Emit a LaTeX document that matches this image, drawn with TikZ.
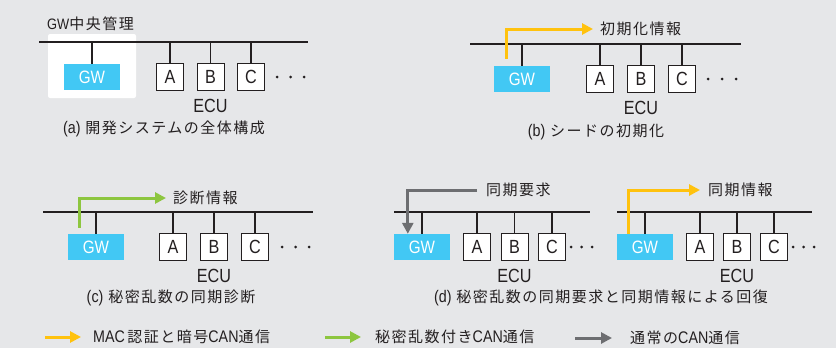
\documentclass[tikz,border=0pt]{standalone}
\usepackage{fontspec}
\setmainfont{Liberation Sans}[FakeStretch=0.85,Scale=1.12]
\newfontfamily\jp{Noto Sans CJK JP}[LetterSpace=10]
\usetikzlibrary{arrows.meta}
\definecolor{bgc}{RGB}{230,231,233}
\definecolor{ink}{RGB}{35,31,32}
\definecolor{gwcyan}{RGB}{66,200,244}
\definecolor{yellowc}{RGB}{255,194,14}
\definecolor{greenc}{RGB}{141,198,63}
\definecolor{grayc}{RGB}{109,110,113}
\newcommand\lt[1]{{\rmfamily #1}}
\newcommand\canbus[9]{%
  \coordinate (#1bl) at (#3,#2);
  \coordinate (#1br) at (#4,#2);
  \node[gwbox] (#1gw) at (#5,#2+35) {GW};
  \node[ecubox] (#1a) at (#6,#2+35) {A};
  \node[ecubox] (#1b) at (#6+#7,#2+35) {B};
  \node[ecubox] (#1c) at (#6+2*#7,#2+35) {C};
  \foreach \nn in {gw,a,b,c}{\draw[stubline] (#1\nn.north) -- (#1\nn.north |- #1bl);}
  \draw[busline] (#1bl) -- (#1br);
  \node[ecutext] (#1ecu) at (#6+#7,#2+64) {ECU};
  \foreach \k in {0,1,2}{\fill[ink] (#8+\k*#9,#2+35) circle (1.5pt);}
}
\begin{document}
\begin{tikzpicture}[x=1pt,y=-1pt,
  busline/.style={draw=ink,line width=1.8pt},
  stubline/.style={draw=ink,line width=1.5pt},
  gwbox/.style={fill=gwcyan,minimum width=56pt,minimum height=26pt,inner sep=0pt,text=white,font=\fontsize{16}{16}\selectfont},
  ecubox/.style={draw=ink,fill=white,line width=0.8pt,minimum size=27pt,inner sep=0pt,text=ink,font=\fontsize{17}{17}\selectfont},
  ecutext/.style={inner sep=0pt,text=ink,font=\fontsize{17}{17}\selectfont},
  lbl/.style={inner sep=0pt,anchor=west,text=ink,font=\jp\fontsize{15}{15}\selectfont},
  captext/.style={inner sep=0pt,text=ink,font=\jp\fontsize{15}{15}\selectfont},
  flowarrow/.style={line width=3pt,-{Triangle[length=11pt,width=11pt]}},
  backpanel/.style={fill=white,rounded corners=2pt,minimum width=88pt,minimum height=64pt,inner sep=0pt}
]
\useasboundingbox[fill=bgc] (0,0) rectangle (836,348);

% (a)
\node[backpanel] (aback) at (92,66) {};
\node[lbl] (atitle) at (47,24) {\lt{\fontsize{13.5}{13.5}\selectfont GW}中央管理};
\canbus{a}{42}{39}{308}{92}{170}{40.5}{277}{13.5}
\node[captext] (acap) at (164,129) {\lt{(a)} 開発システムの全体構成};

% (b)
\canbus{b}{44}{470}{741}{522}{600}{41}{708}{14}
\node[lbl] (blbl) at (600,29) {初期化情報};
\draw[flowarrow,yellowc] ([xshift=13pt,yshift=7pt]bgw.north west) |- ([xshift=-7pt]blbl.west);
\node[captext] (bcap) at (596,132) {\lt{(b)} シードの初期化};

% (c)
\canbus{c}{212}{43}{313}{96}{173}{41}{282}{13.5}
\node[lbl] (clbl) at (173,198) {診断情報};
\draw[flowarrow,greenc] ([xshift=12pt,yshift=6pt]cgw.north west) |- ([xshift=-7pt]clbl.west);
\node[captext] (ccap) at (171,298) {\lt{(c)} 秘密乱数の同期診断};

% (d)
\canbus{d}{212}{394}{590}{422}{477}{37.5}{571}{10.5}
\node[lbl] (dlbl) at (486,190) {同期要求};
\draw[flowarrow,grayc] ([xshift=-9pt]dlbl.west) -| ([xshift=14pt]dgw.north west);
\canbus{e}{212}{617}{812}{645}{700}{37}{793}{10.5}
\node[lbl] (elbl) at (708,190) {同期情報};
\draw[flowarrow,yellowc] ([xshift=12pt]egw.north west) |- ([xshift=-8pt]elbl.west);
\node[captext] (dcap) at (601,298) {\lt{(d)} 秘密乱数の同期要求と同期情報による回復};

% legend
\node[lbl] (l1) at (93,337) {\lt{MAC}\,認証と暗号\lt{CAN}通信};
\draw[flowarrow,yellowc] ([xshift=-48pt]l1.west) -- ([xshift=-12pt]l1.west);
\node[lbl] (l2) at (375,337) {秘密乱数付き\lt{CAN}通信};
\draw[flowarrow,greenc] ([xshift=-50pt]l2.west) -- ([xshift=-14pt]l2.west);
\node[lbl] (l3) at (630,338) {通常の\lt{CAN}通信};
\draw[flowarrow,grayc] ([xshift=-55pt]l3.west) -- ([xshift=-18pt]l3.west);
\end{tikzpicture}
\end{document}
